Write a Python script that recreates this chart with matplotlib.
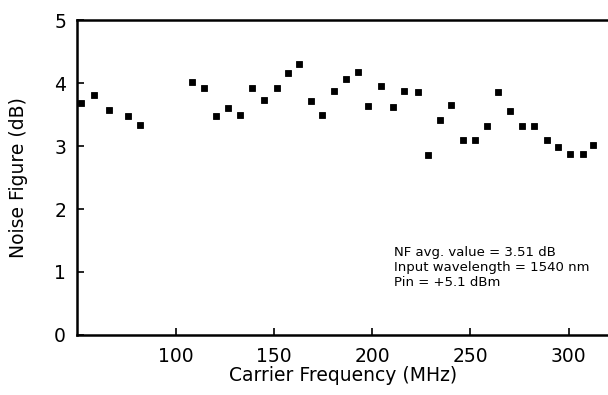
import numpy as np
import matplotlib.pyplot as plt

# dados
freq = [52, 58.5, 66, 76, 82, 108.5, 114.5, 120.5, 126.5, 133, 139, 145, 151.5, 157, 163,
        169, 174.5, 180.5, 186.5, 193, 198, 204.5, 210.5, 216, 223.5, 228.5, 234.5, 240,
        246, 252.5, 258.5, 264, 270, 276.5, 282.5, 289, 294.5, 300.5, 307.5, 312.5]
nf = [3.68, 3.81, 3.57, 3.47, 3.33, 4.02, 3.92, 3.47, 3.61, 3.49, 3.93, 3.73, 3.93, 4.16, 4.31,
      3.72, 3.50, 3.87, 4.07, 4.17, 3.63, 3.96, 3.62, 3.87, 3.86, 2.86, 3.41, 3.65,
      3.10, 3.09, 3.32, 3.86, 3.55, 3.32, 3.32, 3.09, 2.99, 2.88, 2.88, 3.01]
xticks = [100, 150, 200, 250, 300]
yticks = [0, 1, 2, 3, 4, 5]
notas = ["NF avg. value = 3.51 dB", "Input wavelength = 1540 nm", "Pin = +5.1 dBm"]

plt.rcParams['font.family'] = ['DejaVu Sans']

fig = plt.figure(figsize=(6.08, 3.95), dpi=100)
ax = fig.add_axes([0.127, 0.152, 0.873, 0.797])

ax.plot(freq, nf, 's', color='black', markersize=4.4, markeredgewidth=0.6)

ax.set_xlim(50, 320)
ax.set_ylim(0, 5)
ax.set_xticks(xticks)
ax.set_yticks(yticks)
ax.tick_params(direction='in', length=5, width=1.2, labelsize=13.5)
ax.tick_params(axis='x', pad=9)
ax.tick_params(axis='y', pad=8)
ax.spines['right'].set_visible(False)
for s in ['left', 'bottom', 'top']:
    ax.spines[s].set_linewidth(1.8)

ax.set_xlabel("Carrier Frequency (MHz)", fontsize=13.5, labelpad=0)
ax.set_ylabel("Noise Figure (dB)", fontsize=13.5, labelpad=19)

ax.text(0.597, 0.283, "\n".join(notas), transform=ax.transAxes, fontsize=9.5,
        va='top', ha='left', linespacing=1.2)

fig.savefig("out.png", dpi=100)
